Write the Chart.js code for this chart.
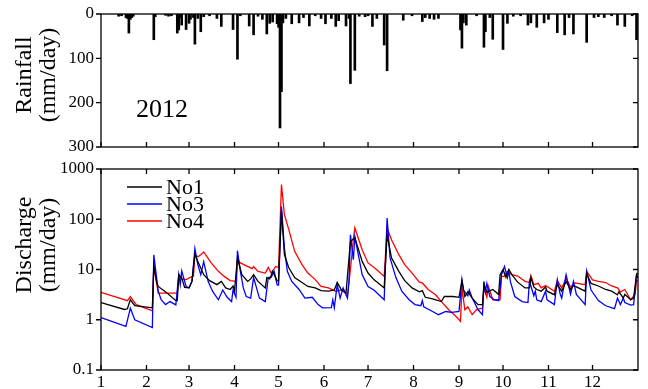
<!DOCTYPE html>
<html>
<head>
<meta charset="utf-8">
<script src="https://cdn.jsdelivr.net/npm/chart.js@4.4.0/dist/chart.umd.min.js"></script>
<style>
  body { margin: 0; background: #fff; }
  #wrap { position: relative; width: 648px; height: 389px; }
  canvas { position: absolute; left: 0; }
  #rain { top: 0; }
  #flow { top: 160px; }
</style>
</head>
<body>
<div id="wrap">
  <canvas id="rain" width="648" height="160"></canvas>
  <canvas id="flow" width="648" height="229"></canvas>
</div>
<script>
// month starts (day of year, 2012) and their labels
const monthStart = [0, 31, 60, 91, 121, 152, 182, 213, 244, 274, 305, 335];
const monthLabel = ['1', '2', '3', '4', '5', '6', '7', '8', '9', '10', '11', '12'];
const rainTicks = [0, 100, 200, 300];
const flowTicks = [0.1, 1, 10, 100, 1000];
const flowTickLabel = ['0.1', '1', '10', '100', '1000'];

// daily rainfall (mm/day), only rainy days
const rainDay = [12,14,17,18,19,20,21,22,36,37,44,46,48,52,53,54,55,58,60,61,63,64,66,68,70,74,79,82,90,93,95,101,104,107,110,113,115,117,120,121,122,123,124,126,130,135,138,142,146,150,153,157,160,162,167,169,170,173,176,180,182,185,188,193,195,206,212,219,221,224,227,230,245,246,247,249,256,261,262,265,267,274,277,281,286,291,293,297,302,305,311,316,319,322,331,336,339,343,348,352,357,362,365];
const rainMm = [5,4,8,10,43,12,8,5,58,6,3,5,4,43,36,8,25,35,21,12,8,68,10,40,6,4,10,28,35,102,4,27,47,5,12,45,21,18,22,30,257,175,20,10,22,20,8,27,4,10,22,10,28,15,27,10,157,127,5,6,4,28,10,70,128,14,4,17,8,10,12,10,36,77,20,25,4,75,40,8,57,80,21,5,4,25,20,30,20,12,42,47,8,45,64,8,6,8,4,25,28,4,58];

// discharge (mm/day)
const no1Day = [0,16,18,20,23,34,35,36,38,39,45,51,52,53,55,57,60,62,64,66,70,74,79,82,85,88,90,91,93,96,100,102,104,107,112,113,115,117,120,121,123,125,128,132,137,141,146,150,155,159,161,164,167,170,173,178,182,186,193,195,198,203,207,212,217,219,221,226,232,234,240,244,246,248,250,253,257,260,261,263,267,271,272,274,276,278,280,284,289,292,293,295,297,300,303,304,309,311,314,317,320,322,324,330,331,334,339,344,348,352,353,356,357,361,363,365,366];
const no1Val = [2.2,1.6,1.65,2.5,1.9,1.75,1.75,12,5.5,4.6,3.4,2.4,2.4,7.9,6.8,4.4,4.3,5.8,20,14.5,7.9,6,5,5.8,4.3,4,4.7,3.8,17,7.9,5.8,6.5,7.9,5.8,4.3,6.9,6.5,9.2,6,5.9,150,19.7,10.8,6.9,5.5,4.6,4.3,3.8,3.7,3.9,5.5,3.9,3.45,36,43,14.5,8.5,6.3,4.3,49,17,9.2,6,4.3,3.6,3.8,2.8,2.6,2.3,2.9,2.9,2.8,6.0,2.9,3.6,2.7,2.0,2.0,5.0,3.5,4.0,3.2,7.9,10,7,10,7.9,5.6,4.3,4.3,6.8,4.5,4.0,3.7,4.5,3.7,3.15,5.0,3.7,5.8,4.0,4.8,4.5,3.7,8.2,5.3,4.7,4.0,3.7,3.15,3.6,2.7,3.2,2.5,2.7,7.9,6.8];

const no3Day = [0,17,20,23,35,36,39,41,44,47,51,53,54,55,58,60,62,64,66,68,70,73,76,80,83,86,89,90,92,93,95,97,99,102,104,106,108,112,114,116,118,120,121,123,125,127,130,135,139,144,148,151,157,158,159,161,163,165,168,169,170,172,173,178,182,186,193,195,197,201,205,210,214,218,219,220,226,230,235,239,244,246,247,250,251,253,257,260,261,262,263,265,268,271,273,275,277,278,279,282,287,291,292,295,296,297,300,303,304,309,311,313,314,317,320,322,324,330,331,334,339,344,350,352,354,356,357,361,363,365,366];
const no3Val = [1.1,0.74,1.7,1.0,0.7,19.7,3.7,2.5,2.0,2.3,1.98,7.9,5,9.4,4.6,4.3,5.8,26,12.5,7.9,14.3,5.8,3.7,2.5,3.9,2.8,2.3,3.9,2.8,23.7,9.2,4.3,2.9,2.7,6.9,4.3,2.7,2.3,7.0,7.0,9.2,5,4.9,180,27,9.2,5.8,4.0,2.7,2.8,2.0,1.73,1.75,2.5,1.73,5.0,2.7,4.3,2.7,5.8,49,15.7,45,7.9,4.6,3.9,2.5,106,17,6.9,3.7,2.5,2.0,1.9,2.4,1.8,1.46,1.26,1.46,1.4,1.46,6.3,3.9,3.0,3.9,2.7,1.58,1.26,5.8,3.6,5.3,2.9,2.5,2.4,7.9,11.5,6.9,9.2,5.8,2.9,2.3,2.2,5.8,3.0,3.7,2.5,2.3,3.7,2.5,2.0,6.3,3.2,2.7,7.9,3.2,5.8,3.2,2.0,9.2,3.9,2.4,1.9,1.66,2.7,2.0,2.7,2.2,1.95,2.0,7.9,8.5];

const no4Day = [0,18,20,24,35,36,39,52,53,55,58,61,63,64,66,68,70,75,80,84,88,92,93,95,103,104,107,112,114,116,119,121,123,125,128,132,137,141,146,150,155,160,164,168,170,172,173,178,182,187,193,195,198,203,207,212,217,219,223,228,232,237,242,245,246,248,250,253,256,260,261,263,264,267,272,273,275,277,280,284,289,292,293,295,298,300,303,309,311,314,317,320,323,330,331,335,339,344,348,352,354,357,361,364,365,366];
const no4Val = [3.5,2.4,2.9,2.0,1.5,11.5,3.4,3.4,7.4,6.5,6.3,7,7.3,19.7,18,19.7,22.4,13.7,9.2,7.3,6.0,5.8,15.7,13.5,10.4,11.5,9.2,8.5,11,8.5,11.5,11,490,123,62,23,12.5,8.5,6.3,4.6,4.3,3.7,3.9,3.15,10,40,67,24.7,13.5,10.5,7.3,67,39,19.7,12.5,8.5,5.6,5.4,4.0,3.15,2.3,1.58,1.16,0.93,4.3,1.58,1.8,1.26,1.6,1.7,4.3,2.8,4.6,2.5,2.5,7.3,7.3,9.2,7.9,7.4,5.8,5.5,7.6,5.0,5.3,4.3,4.8,3.7,6,4.3,6.6,4.5,5.4,5.0,9.2,6.2,5.8,5.5,4.7,4.3,3.6,4.0,2.5,3.2,5.9,6.0];

const pairs = (xs, ys) => xs.map((x, i) => ({x: x, y: ys[i]}));

Chart.defaults.font.family = "'Liberation Serif', 'DejaVu Serif', serif";
Chart.defaults.font.size = 17;
Chart.defaults.color = '#000';

// box round the plot with ticks, plus rotated axis title and free text
const frame = {
  id: 'frame',
  afterDraw(chart, args, o) {
    const {ctx, chartArea: a, scales} = chart;
    ctx.save();
    ctx.strokeStyle = '#000';
    ctx.lineWidth = 1.3;
    ctx.strokeRect(a.left, a.top, a.right - a.left, a.bottom - a.top);
    ctx.beginPath();
    scales.x.ticks.forEach(t => {
      const px = scales.x.getPixelForValue(t.value);
      ctx.moveTo(px, a.bottom); ctx.lineTo(px, a.bottom - 5);
      if (o.topTicks) { ctx.moveTo(px, a.top); ctx.lineTo(px, a.top + 5); }
    });
    scales.y.ticks.forEach(t => {
      const py = scales.y.getPixelForValue(t.value);
      ctx.moveTo(a.left - 5, py); ctx.lineTo(a.left, py);
      ctx.moveTo(a.right, py); ctx.lineTo(a.right - 5, py);
    });
    ctx.stroke();

    // y title, two lines
    ctx.font = "24px 'Liberation Serif'";
    ctx.fillStyle = '#000';
    ctx.textAlign = 'center';
    ctx.textBaseline = 'middle';
    o.title.forEach((line, i) => {
      ctx.save();
      ctx.translate(25 + i * 24, o.titleY);
      ctx.rotate(-Math.PI / 2);
      ctx.fillText(line, 0, 0);
      ctx.restore();
    });

    if (o.note) {
      ctx.font = "26px 'Liberation Serif'";
      ctx.textAlign = 'left';
      ctx.textBaseline = 'alphabetic';
      ctx.fillText(o.note, a.left + 35, a.top + 103);
    }

    if (o.legend) {
      ctx.font = "22px 'Liberation Serif'";
      ctx.textAlign = 'left';
      ctx.textBaseline = 'middle';
      ctx.lineWidth = 1.5;
      chart.data.datasets.forEach((ds, i) => {
        const y = a.top + 18 + i * 17;
        ctx.strokeStyle = ds.borderColor;
        ctx.beginPath();
        ctx.moveTo(a.left + 26, y); ctx.lineTo(a.left + 61, y);
        ctx.stroke();
        ctx.fillText(ds.label, a.left + 65, y + 1);
      });
    }
    ctx.restore();
  }
};

const xScale = (showLabels, h) => ({
  type: 'linear',
  min: 0,
  max: 366,
  offset: false,
  grid: {display: false, drawTicks: false},
  border: {display: false},
  afterBuildTicks: s => { s.ticks = monthStart.map(v => ({value: v})); },
  afterFit: s => { s.height = h; },
  ticks: {
    display: showLabels,
    autoSkip: false,
    maxRotation: 0,
    padding: 2,
    callback: v => monthLabel[monthStart.indexOf(v)]
  }
});

// y axis of fixed width, no extra room asked for its end labels
const fitY = s => { s.width = 101; s.paddingTop = 0; s.paddingBottom = 0; };

new Chart(document.getElementById('rain'), {
  type: 'bar',
  data: {
    datasets: [{
      label: 'Rainfall',
      data: pairs(rainDay, rainMm),
      backgroundColor: '#000',
      borderWidth: 0,
      barThickness: 2
    }]
  },
  options: {
    responsive: false,
    animation: false,
    layout: {padding: {top: 14, right: 10, bottom: 0, left: 0}},
    plugins: {
      legend: {display: false},
      tooltip: {enabled: false},
      frame: {title: ['Rainfall', '(mm/day)'], titleY: 75, note: '2012', topTicks: false}
    },
    scales: {
      x: xScale(false, 13),
      y: {
        reverse: true,
        min: 0,
        max: 300,
        grid: {display: false, drawTicks: false},
        border: {display: false},
        afterBuildTicks: s => { s.ticks = rainTicks.map(v => ({value: v})); },
        afterFit: fitY,
        ticks: {padding: 7}
      }
    }
  },
  plugins: [frame]
});

new Chart(document.getElementById('flow'), {
  type: 'line',
  data: {
    datasets: [
      {label: 'No1', data: pairs(no1Day, no1Val), borderColor: '#000000'},
      {label: 'No3', data: pairs(no3Day, no3Val), borderColor: '#0000ff'},
      {label: 'No4', data: pairs(no4Day, no4Val), borderColor: '#ff0000'}
    ]
  },
  options: {
    responsive: false,
    animation: false,
    layout: {padding: {top: 9, right: 10, bottom: 0, left: 0}},
    elements: {
      line: {borderWidth: 1.3, tension: 0, fill: false},
      point: {radius: 0}
    },
    plugins: {
      legend: {display: false},
      tooltip: {enabled: false},
      frame: {title: ['Discharge', '(mm/day)'], titleY: 85, legend: true, topTicks: true}
    },
    scales: {
      x: xScale(true, 19),
      y: {
        type: 'logarithmic',
        min: 0.1,
        max: 1000,
        grid: {display: false, drawTicks: false},
        border: {display: false},
        afterBuildTicks: s => { s.ticks = flowTicks.map(v => ({value: v})); },
        afterFit: fitY,
        ticks: {
          padding: 7,
          callback: v => flowTickLabel[flowTicks.indexOf(v)]
        }
      }
    }
  },
  plugins: [frame]
});
</script>
</body>
</html>
